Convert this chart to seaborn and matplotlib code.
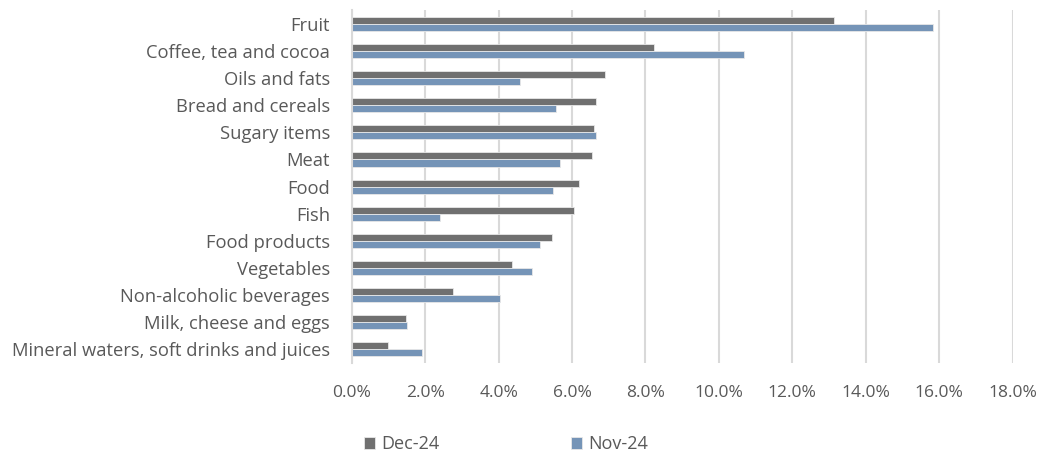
import pandas as pd
import matplotlib
matplotlib.use("Agg")
import matplotlib.pyplot as plt
import seaborn as sns
from matplotlib.ticker import PercentFormatter

# Data (annual % change)
categories = [
    "Fruit", "Coffee, tea and cocoa", "Oils and fats", "Bread and cereals",
    "Sugary items", "Meat", "Food", "Fish", "Food products", "Vegetables",
    "Non-alcoholic beverages", "Milk, cheese and eggs",
    "Mineral waters, soft drinks and juices",
]
dec_24 = [13.14, 8.23, 6.91, 6.65, 6.59, 6.55, 6.18, 6.05, 5.46, 4.37, 2.76, 1.48, 1.00]
nov_24 = [15.83, 10.67, 4.57, 5.55, 6.66, 5.68, 5.47, 2.40, 5.12, 4.92, 4.03, 1.51, 1.92]
series_names = ["Dec-24", "Nov-24"]
xticks = [0, 2, 4, 6, 8, 10, 12, 14, 16, 18]

df = pd.DataFrame({
    "Category": categories * 2,
    "Value": dec_24 + nov_24,
    "Series": [series_names[0]] * len(categories) + [series_names[1]] * len(categories),
})

sns.set_style("white")
plt.rcParams["font.family"] = ["Open Sans", "DejaVu Sans"]

fig = plt.figure(figsize=(10.53, 4.55), dpi=100)
ax = fig.add_axes([0.334, 0.203, 0.6277, 0.774])

sns.barplot(
    data=df, y="Category", x="Value", hue="Series",
    hue_order=series_names, order=categories,
    palette=["#707070", "#6A93C2"], width=0.52,
    orient="h", ax=ax, legend=True,
    edgecolor="#E8E8E8", linewidth=0.6,
)

ax.set_xlim(0, 18)
ax.set_xticks(xticks)
ax.xaxis.set_major_formatter(PercentFormatter(decimals=1))
ax.grid(axis="x", color="#D9D9D9", linewidth=1.5)
ax.set_axisbelow(True)
for side in ["top", "right", "bottom"]:
    ax.spines[side].set_visible(False)
ax.spines["left"].set_color("#D9D9D9")
ax.spines["left"].set_linewidth(1.5)
ax.set_xlabel("")
ax.set_ylabel("")
ax.tick_params(axis="x", length=0, pad=16, labelsize=12.5, labelcolor="#595959")
ax.tick_params(axis="y", length=0, pad=15.5, labelsize=13.2, labelcolor="#595959")

ax.legend_.remove()
handles, labels = ax.get_legend_handles_labels()
fig.legend(
    handles, labels, loc="center", bbox_to_anchor=(0.4806, 0.024), ncol=2,
    frameon=False, fontsize=13, labelcolor="#595959",
    handlelength=0.62, handleheight=0.62, handletextpad=0.35, columnspacing=7.3,
)

fig.savefig("out.png", dpi=100)
